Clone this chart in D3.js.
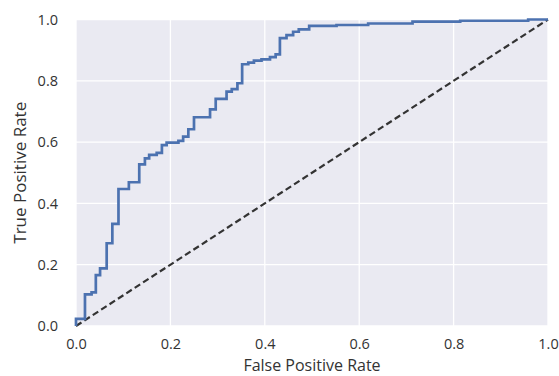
<!DOCTYPE html>
<html>
<head>
<meta charset="utf-8">
<script src="https://cdn.jsdelivr.net/npm/d3@7"></script>
<style>
  body { margin: 0; background: #fff; }
  text { font-family: "Open Sans", "DejaVu Sans", sans-serif; }
</style>
</head>
<body>
<svg id="chart"></svg>
<script>
// ROC curve corners: each point is the right end of a horizontal run at that TPR
const fpr = [0, 0.019, 0.033, 0.042, 0.051, 0.065, 0.077, 0.090, 0.112, 0.134,
  0.146, 0.155, 0.171, 0.182, 0.192, 0.217, 0.227, 0.238, 0.250, 0.284,
  0.296, 0.319, 0.330, 0.342, 0.352, 0.365, 0.377, 0.393, 0.411, 0.423,
  0.432, 0.446, 0.460, 0.472, 0.494, 0.552, 0.619, 0.713, 0.814, 0.958, 1.0];
const tpr = [0, 0.023, 0.103, 0.110, 0.166, 0.188, 0.270, 0.333, 0.447, 0.469,
  0.527, 0.547, 0.558, 0.565, 0.590, 0.598, 0.604, 0.618, 0.642, 0.681,
  0.707, 0.741, 0.765, 0.773, 0.792, 0.854, 0.859, 0.866, 0.870, 0.877,
  0.886, 0.939, 0.949, 0.960, 0.968, 0.979, 0.982, 0.987, 0.993, 0.996, 1.0];
const diagonal = [0, 1];
const ticks = [0, 0.2, 0.4, 0.6, 0.8, 1.0];

const width = 559, height = 376;
const margin = {top: 19.5, right: 11, bottom: 50, left: 76};

const svg = d3.select('#chart')
  .attr('width', width)
  .attr('height', height);

const x = d3.scaleLinear().domain([0, 1]).range([margin.left, width - margin.right]);
const y = d3.scaleLinear().domain([0, 1]).range([height - margin.bottom, margin.top]);

// plot background
svg.append('rect')
  .attr('x', x(0))
  .attr('y', y(1))
  .attr('width', x(1) - x(0))
  .attr('height', y(0) - y(1))
  .attr('fill', '#EAEAF2');

// grid
svg.append('g')
  .selectAll('line')
  .data(ticks)
  .enter()
  .append('line')
  .attr('x1', d => x(d)).attr('x2', d => x(d))
  .attr('y1', y(0)).attr('y2', y(1))
  .attr('stroke', '#fff')
  .attr('stroke-width', 1.3);

svg.append('g')
  .selectAll('line')
  .data(ticks)
  .enter()
  .append('line')
  .attr('y1', d => y(d)).attr('y2', d => y(d))
  .attr('x1', x(0)).attr('x2', x(1))
  .attr('stroke', '#fff')
  .attr('stroke-width', 1.3);

// axes (labels only, seaborn darkgrid has no tick marks)
const xAxis = svg.append('g')
  .attr('transform', `translate(0,${y(0)})`)
  .call(d3.axisBottom(x).tickValues(ticks).tickFormat(d3.format('.1f')).tickSize(0).tickPadding(13));
const yAxis = svg.append('g')
  .attr('transform', `translate(${x(0)},0)`)
  .call(d3.axisLeft(y).tickValues(ticks).tickFormat(d3.format('.1f')).tickSize(0).tickPadding(18));

[xAxis, yAxis].forEach(a => {
  a.select('.domain').remove();
  a.selectAll('text')
    .attr('fill', '#333')
    .style('font-size', '14.5px')
    .style('font-family', '"Open Sans", "DejaVu Sans", sans-serif');
});

// diagonal reference
const points = fpr.map((d, i) => [d, tpr[i]]);

svg.append('path')
  .datum(diagonal)
  .attr('d', d3.line().x(d => x(d)).y(d => y(d)))
  .attr('fill', 'none')
  .attr('stroke', '#333')
  .attr('stroke-width', 2.2)
  .attr('stroke-dasharray', '6.5,3.5');

svg.append('path')
  .datum(points)
  .attr('d', d3.line().x(d => x(d[0])).y(d => y(d[1])).curve(d3.curveStepBefore))
  .attr('fill', 'none')
  .attr('stroke', '#4C72B0')
  .attr('stroke-width', 2.7);

// axis titles
svg.append('text')
  .text('False Positive Rate')
  .attr('x', (x(0) + x(1)) / 2)
  .attr('y', 371)
  .attr('text-anchor', 'middle')
  .attr('fill', '#333')
  .style('font-size', '16px');

svg.append('text')
  .text('True Positive Rate')
  .attr('transform', `translate(26,${(y(0) + y(1)) / 2}) rotate(-90)`)
  .attr('text-anchor', 'middle')
  .attr('fill', '#333')
  .style('font-size', '17px');
</script>
</body>
</html>
